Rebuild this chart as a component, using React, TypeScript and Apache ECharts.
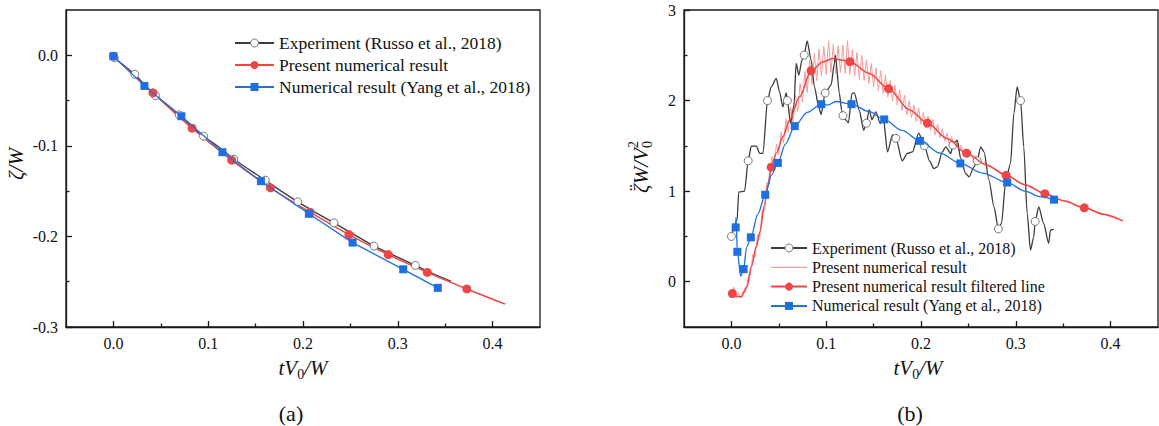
import React, { useEffect, useRef } from 'react';
import * as echarts from 'echarts';

const SERIF = '"Liberation Serif", "Times New Roman", Times, serif';

// ---------- data (x, y, marker flag) ----------
const A_EXP: number[][] = [
  [0.001, -0.0026, 1], [0.0226, -0.021, 1], [0.033, -0.0325, 0], [0.0444, -0.0445, 1], [0.057, -0.055, 0],
  [0.0694, -0.0658, 1], [0.082, -0.078, 0], [0.0951, -0.0893, 1], [0.111, -0.101, 0], [0.1271, -0.1147, 1],
  [0.1407, -0.1245, 0], [0.1602, -0.1379, 1], [0.177, -0.15, 0], [0.1945, -0.1618, 1], [0.213, -0.1735, 0],
  [0.2327, -0.185, 1], [0.254, -0.198, 0], [0.2749, -0.2107, 1], [0.297, -0.2215, 0], [0.3185, -0.232, 1],
  [0.338, -0.2415, 0], [0.3563, -0.2495, 0],
];
const A_PRESENT: number[][] = [
  [0.0, -0.001, 1], [0.0417, -0.0415, 1], [0.083, -0.0805, 1], [0.1248, -0.1158, 1], [0.1657, -0.1463, 1],
  [0.2074, -0.1732, 1], [0.2485, -0.1980, 1], [0.2899, -0.2200, 1], [0.3311, -0.2397, 1], [0.3728, -0.2580, 1],
  [0.4130, -0.2746, 0],
];
const A_YANG: number[][] = [
  [0.0, -0.001, 1], [0.0327, -0.0338, 1], [0.0717, -0.0673, 1], [0.115, -0.107, 1], [0.1556, -0.139, 1],
  [0.2062, -0.175, 1], [0.2523, -0.2068, 1], [0.3057, -0.2363, 1], [0.3422, -0.2568, 1],
];

const B_EXP: number[][] = [
  [0.0, 0.5, 1], [0.006, 0.68, 0], [0.0077, 0.99, 0], [0.0139, 1.0, 0], [0.0177, 1.335, 1], [0.021, 1.497, 0],
  [0.0263, 1.497, 0], [0.0298, 1.416, 0], [0.0333, 1.416, 0], [0.0381, 2.0, 1], [0.042, 2.151, 0],
  [0.0473, 2.244, 0], [0.0508, 2.096, 0], [0.0543, 1.93, 0], [0.0578, 2.085, 0], [0.059, 2.0, 1],
  [0.0625, 1.75, 0], [0.066, 1.95, 0], [0.0683, 2.41, 0], [0.0711, 2.28, 0], [0.0745, 2.45, 0],
  [0.0768, 2.502, 1], [0.0799, 2.66, 0], [0.0841, 2.446, 0], [0.0876, 2.151, 0], [0.0921, 1.93, 0],
  [0.0946, 1.846, 0], [0.0989, 2.083, 1], [0.1051, 2.17, 0], [0.1086, 2.41, 0], [0.1097, 2.5, 0],
  [0.1139, 2.078, 0], [0.1163, 1.894, 0], [0.1177, 1.833, 1], [0.1209, 1.784, 0], [0.1234, 1.754, 0],
  [0.1272, 2.078, 0], [0.1296, 2.085, 0], [0.1349, 1.894, 0], [0.1395, 1.673, 0], [0.1424, 1.75, 1],
  [0.1454, 1.9, 0], [0.1482, 1.79, 0], [0.1524, 1.876, 0], [0.157, 1.747, 0], [0.1601, 1.82, 0],
  [0.1647, 1.434, 0], [0.17, 1.62, 0], [0.1735, 1.583, 1], [0.1802, 1.336, 0], [0.1857, 1.416, 0],
  [0.191, 1.434, 0], [0.1976, 1.64, 0], [0.2015, 1.563, 0], [0.2036, 1.5, 1], [0.2092, 1.33, 0],
  [0.2135, 1.25, 0], [0.2173, 1.268, 0], [0.2225, 1.434, 0], [0.2261, 1.489, 0], [0.2314, 1.416, 0],
  [0.2337, 1.508, 1], [0.2383, 1.563, 0], [0.2418, 1.361, 0], [0.2471, 1.195, 0], [0.2507, 1.158, 0],
  [0.2559, 1.268, 0], [0.2593, 1.335, 1], [0.2629, 1.489, 0], [0.2665, 1.434, 0], [0.2717, 1.121, 0],
  [0.277, 0.827, 0], [0.2816, 0.583, 1], [0.2849, 0.643, 0], [0.2891, 1.085, 0], [0.2944, 1.306, 0],
  [0.298, 1.858, 0], [0.3014, 2.151, 0], [0.305, 2.0, 1], [0.3084, 1.489, 0], [0.312, 0.754, 0],
  [0.3155, 0.349, 0], [0.319, 0.496, 0], [0.3204, 0.665, 1], [0.3242, 0.827, 0], [0.3294, 0.643, 0],
  [0.3347, 0.423, 0], [0.3365, 0.57, 0], [0.34, 0.577, 0],
];
const B_RAW: number[][] = [
  [0, -0.135], [0.0025, -0.06], [0.005, -0.17], [0.0075, -0.12], [0.01, -0.175], [0.0125, -0.1], [0.015, -0.12],
  [0.0175, 0.04], [0.02, 0.07], [0.0225, 0.3], [0.025, 0.27], [0.0275, 0.52], [0.03, 0.49], [0.0325, 0.79],
  [0.035, 0.78], [0.0375, 1.1], [0.04, 1.08], [0.0425, 1.38], [0.045, 1.27], [0.0475, 1.52], [0.05, 1.4],
  [0.0525, 1.65], [0.055, 1.53], [0.0575, 1.8], [0.06, 1.65], [0.0625, 1.93], [0.065, 1.76], [0.0675, 2.06],
  [0.07, 1.88], [0.0725, 2.19], [0.075, 1.98], [0.0775, 2.32], [0.08, 2.09], [0.0825, 2.45], [0.085, 2.18],
  [0.0875, 2.52], [0.09, 2.22], [0.0925, 2.57], [0.095, 2.27], [0.0975, 2.6], [0.1, 2.29], [0.1025, 2.66],
  [0.105, 2.31], [0.1075, 2.62], [0.11, 2.3], [0.1125, 2.6], [0.115, 2.31], [0.1175, 2.61], [0.12, 2.3],
  [0.1225, 2.66], [0.125, 2.29], [0.1275, 2.56], [0.13, 2.27], [0.1325, 2.53], [0.135, 2.23], [0.1375, 2.5],
  [0.14, 2.22], [0.1425, 2.45], [0.145, 2.19], [0.1475, 2.41], [0.15, 2.15], [0.1525, 2.36], [0.155, 2.11],
  [0.1575, 2.33], [0.16, 2.08], [0.1625, 2.28], [0.165, 2.04], [0.1675, 2.22], [0.17, 1.99], [0.1725, 2.17],
  [0.175, 1.95], [0.1775, 2.12], [0.18, 1.89], [0.1825, 2.06], [0.185, 1.84], [0.1875, 2.0], [0.19, 1.81],
  [0.1925, 1.95], [0.195, 1.77], [0.1975, 1.92], [0.2, 1.74], [0.2025, 1.87], [0.205, 1.7], [0.2075, 1.83],
  [0.21, 1.67], [0.2125, 1.79], [0.215, 1.62], [0.2175, 1.74], [0.22, 1.59], [0.2225, 1.69], [0.225, 1.55],
  [0.2275, 1.64], [0.23, 1.51], [0.2325, 1.6], [0.235, 1.47], [0.2375, 1.56], [0.24, 1.44], [0.2425, 1.51],
  [0.245, 1.4], [0.2475, 1.47], [0.25, 1.38], [0.2525, 1.42], [0.255, 1.35], [0.2575, 1.39], [0.26, 1.33],
  [0.2625, 1.35], [0.265, 1.3], [0.2675, 1.32], [0.27, 1.28], [0.28, 1.235], [0.29, 1.175], [0.3, 1.12],
  [0.31, 1.07], [0.32, 1.02], [0.33, 0.974], [0.34, 0.935], [0.35, 0.895], [0.36, 0.86], [0.37, 0.823],
  [0.38, 0.79], [0.39, 0.755], [0.4, 0.718], [0.4128, 0.672],
];
const B_FILTERED: number[][] = [
  [0.001, -0.13, 1], [0.005, -0.16, 0], [0.0105, -0.165, 0], [0.0164, -0.056, 0], [0.021, 0.165, 0],
  [0.0263, 0.385, 0], [0.03, 0.55, 0], [0.035, 0.85, 0], [0.0385, 1.07, 0], [0.042, 1.265, 1],
  [0.0473, 1.416, 0], [0.0543, 1.6, 0], [0.0613, 1.784, 0], [0.0718, 2.04, 0], [0.084, 2.328, 1],
  [0.0963, 2.427, 0], [0.1068, 2.464, 0], [0.1174, 2.446, 0], [0.125, 2.43, 1], [0.1454, 2.3, 0],
  [0.1658, 2.131, 1], [0.1875, 1.9, 0], [0.2068, 1.752, 1], [0.2275, 1.58, 0], [0.2481, 1.419, 1],
  [0.269, 1.29, 0], [0.2898, 1.175, 1], [0.31, 1.07, 0], [0.3307, 0.972, 1], [0.3515, 0.89, 0],
  [0.3722, 0.816, 1], [0.3925, 0.745, 0], [0.4128, 0.672, 0],
];
const B_YANG: number[][] = [
  [0.0045, 0.6, 1], [0.0048, 0.71, 0], [0.0063, 0.33, 1], [0.0098, 0.06, 0], [0.0129, 0.14, 1],
  [0.016, 0.38, 0], [0.0205, 0.49, 1], [0.028, 0.75, 0], [0.0357, 0.96, 1], [0.0425, 1.18, 0],
  [0.049, 1.312, 1], [0.057, 1.52, 0], [0.0668, 1.718, 1], [0.08, 1.87, 0], [0.0948, 1.96, 1],
  [0.1016, 1.95, 0], [0.1104, 1.99, 0], [0.1267, 1.96, 1], [0.145, 1.88, 0], [0.1612, 1.792, 1],
  [0.18, 1.67, 0], [0.1989, 1.555, 1], [0.22, 1.42, 0], [0.2415, 1.306, 1], [0.265, 1.2, 0],
  [0.2909, 1.095, 1], [0.31, 1.0, 0], [0.325, 0.94, 0], [0.3403, 0.906, 1],
];

const X_TICKS = [0, 0.1, 0.2, 0.3, 0.4];
const X_MINOR = [0.05, 0.15, 0.25, 0.35];
const A_Y_TICKS = [0, -0.1, -0.2, -0.3];
const A_Y_MINOR = [-0.05, -0.15, -0.25];
const B_Y_TICKS = [0, 1, 2, 3];
const B_Y_MINOR = [0.5, 1.5, 2.5];

const N_EXP = 'Experiment (Russo et al., 2018)';
const N_PRES = 'Present numerical result';
const N_FILT = 'Present numerical result filtered line';
const N_YANG = 'Numerical result (Yang et al., 2018)';
const B = 'b: ';

// ---------- helpers ----------
const INK = '#1a1a1a';
const C_EXP = '#3c3c3c';
const C_EXP_MK = '#6a6a6a';
const C_RED = '#f04545';
const C_BLUE = '#1e6fe0';
const C_PINK = '#f59c9c';

const toData = (pts: number[][]) =>
  pts.map((p) => (p.length < 3 || p[2] ? [p[0], p[1]] : { value: [p[0], p[1]], symbol: 'none' }));

let ctx: CanvasRenderingContext2D | null = null;
function measure(t: string, fs: number, it: boolean) {
  if (!ctx) ctx = document.createElement('canvas').getContext('2d');
  if (!ctx) return t.length * fs * 0.5;
  ctx.font = `${it ? 'italic ' : ''}${fs}px ${SERIF}`;
  return ctx.measureText(t).width;
}

type Piece = { t: string; it?: boolean; fs: number; dy: number; stack?: boolean; dx?: number };
function mathTitle(pieces: Piece[], cx: number, cy: number, rot: number) {
  let x = 0;
  let prevX = 0;
  const children: any[] = [];
  for (const p of pieces) {
    const w = measure(p.t, p.fs, !!p.it);
    let px: number;
    if (p.stack) {
      px = prevX + (p.dx || 0);
      x = Math.max(x, px + w);
    } else {
      px = x;
      prevX = x;
      x += w;
    }
    children.push({
      type: 'text',
      x: px,
      y: p.dy,
      style: {
        text: p.t, fontSize: p.fs, fontFamily: SERIF, fontStyle: p.it ? 'italic' : 'normal', fill: '#111',
        textAlign: 'left', align: 'left', textVerticalAlign: 'middle', verticalAlign: 'middle',
      },
    });
  }
  children.forEach((c) => (c.x -= x / 2));
  return { type: 'group', x: cx, y: cy, rotation: rot, children };
}

function mainAxis(gridIndex: number, min: number, max: number, ticks: number[], fmt: (v: number) => string, pos: string) {
  return {
    type: 'value', gridIndex, min, max, position: pos,
    axisLine: { show: true, onZero: false, lineStyle: { color: INK, width: 1.3 } },
    axisTick: { show: true, inside: true, length: 6, customValues: ticks, lineStyle: { color: INK, width: 1.3 } },
    axisLabel: { show: true, customValues: ticks, formatter: fmt, fontSize: 16, fontFamily: SERIF, color: '#111', margin: 8 },
    splitLine: { show: false },
  };
}
function minorAxis(gridIndex: number, min: number, max: number, ticks: number[], pos: string) {
  return {
    type: 'value', gridIndex, min, max, position: pos,
    axisLine: { show: false, onZero: false },
    axisTick: { show: true, inside: true, length: 3.5, customValues: ticks, lineStyle: { color: INK, width: 1.3 } },
    axisLabel: { show: false },
    splitLine: { show: false },
  };
}

function buildOption() {
  const fx = (v: number) => v.toFixed(1);
  const fi = (v: number) => String(v);
  const lineBase = { type: 'line', clip: true, z: 2 };
  const expMarker = { color: '#fff', borderColor: C_EXP_MK, borderWidth: 0.9 };
  const expLegend = (name: string) => ({ name, itemStyle: { color: '#fff', borderColor: C_EXP_MK, borderWidth: 0.9 } });
  return {
    animation: false,
    backgroundColor: '#fff',
    grid: [
      { left: 66, top: 10, width: 474, height: 317, show: true, borderColor: INK, borderWidth: 1.3, backgroundColor: 'transparent' },
      { left: 684, top: 10, width: 474, height: 317, show: true, borderColor: INK, borderWidth: 1.3, backgroundColor: 'transparent' },
    ],
    xAxis: [
      mainAxis(0, -0.05, 0.45, X_TICKS, fx, 'bottom'),
      mainAxis(1, -0.05, 0.45, X_TICKS, fx, 'bottom'),
      minorAxis(0, -0.05, 0.45, X_MINOR, 'bottom'),
      minorAxis(1, -0.05, 0.45, X_MINOR, 'bottom'),
    ],
    yAxis: [
      mainAxis(0, -0.3, 0.05, A_Y_TICKS, fx, 'left'),
      mainAxis(1, -0.5, 3, B_Y_TICKS, fi, 'left'),
      minorAxis(0, -0.3, 0.05, A_Y_MINOR, 'left'),
      minorAxis(1, -0.5, 3, B_Y_MINOR, 'left'),
    ],
    legend: [
      {
        orient: 'vertical', left: 234, top: 33, padding: 0, itemWidth: 39, itemHeight: 10, itemGap: 2,
        selectedMode: false, data: [expLegend(N_EXP), N_PRES, N_YANG],
        textStyle: { fontSize: 17.5, fontFamily: SERIF, color: '#111', lineHeight: 20 },
      },
      {
        orient: 'vertical', left: 770, top: 239, padding: 0, itemWidth: 36, itemHeight: 10, itemGap: 1.3,
        selectedMode: false,
        data: [
          expLegend(B + N_EXP),
          { name: B + N_PRES, icon: 'path://M0 0H36V1.2H0Z', itemStyle: { color: C_PINK, borderWidth: 0 } },
          B + N_FILT,
          B + N_YANG,
        ],
        formatter: (n: string) => n.replace(B, ''),
        textStyle: { fontSize: 16, fontFamily: SERIF, color: '#111', lineHeight: 18 },
      },
    ],
    series: [
      {
        ...lineBase, name: N_EXP, xAxisIndex: 0, yAxisIndex: 0, data: toData(A_EXP),
        symbol: 'circle', symbolSize: 8, showAllSymbol: true,
        lineStyle: { color: C_EXP, width: 1.3 }, itemStyle: expMarker,
      },
      {
        ...lineBase, name: N_PRES, xAxisIndex: 0, yAxisIndex: 0, data: toData(A_PRESENT), smooth: 0.3,
        symbol: 'circle', symbolSize: 9, showAllSymbol: true,
        lineStyle: { color: C_RED, width: 1.5 }, itemStyle: { color: C_RED },
      },
      {
        ...lineBase, name: N_YANG, xAxisIndex: 0, yAxisIndex: 0, data: toData(A_YANG),
        symbol: 'rect', symbolSize: 8, showAllSymbol: true, z: 3,
        lineStyle: { color: C_BLUE, width: 1.3 }, itemStyle: { color: C_BLUE },
      },
      {
        ...lineBase, name: B + N_PRES, xAxisIndex: 1, yAxisIndex: 1, data: B_RAW, z: 1,
        symbol: 'none', showSymbol: false,
        lineStyle: { color: C_PINK, width: 1 }, itemStyle: { color: C_PINK },
      },
      {
        ...lineBase, name: B + N_EXP, xAxisIndex: 1, yAxisIndex: 1, data: toData(B_EXP),
        smooth: 0.25, smoothMonotone: 'x',
        symbol: 'circle', symbolSize: 8, showAllSymbol: true,
        lineStyle: { color: C_EXP, width: 1.3 }, itemStyle: expMarker,
      },
      {
        ...lineBase, name: B + N_FILT, xAxisIndex: 1, yAxisIndex: 1, data: toData(B_FILTERED),
        smooth: 0.3, smoothMonotone: 'x', z: 3,
        symbol: 'circle', symbolSize: 9, showAllSymbol: true,
        lineStyle: { color: C_RED, width: 1.5 }, itemStyle: { color: C_RED },
      },
      {
        ...lineBase, name: B + N_YANG, xAxisIndex: 1, yAxisIndex: 1, data: toData(B_YANG),
        smooth: 0.3, smoothMonotone: 'x', z: 4,
        symbol: 'rect', symbolSize: 8, showAllSymbol: true,
        lineStyle: { color: C_BLUE, width: 1.3 }, itemStyle: { color: C_BLUE },
      },
    ],
    graphic: [
      mathTitle([{ t: 'tV', it: true, fs: 21, dy: 0 }, { t: '0', fs: 14, dy: 6 }, { t: '/W', it: true, fs: 21, dy: 0 }], 303, 368, 0),
      mathTitle([{ t: 'tV', it: true, fs: 21, dy: 0 }, { t: '0', fs: 14, dy: 6 }, { t: '/W', it: true, fs: 21, dy: 0 }], 918, 368, 0),
      mathTitle([{ t: 'ζ/W', it: true, fs: 21, dy: 0 }], 16, 164, Math.PI / 2),
      mathTitle(
        [
          { t: 'ζ', it: true, fs: 21, dy: 0 },
          { t: '¨', fs: 20, dy: -5, stack: true, dx: 2 },
          { t: 'W/V', it: true, fs: 21, dy: 0 },
          { t: '2', fs: 14, dy: -8 },
          { t: '0', fs: 14, dy: 6, stack: true },
        ],
        641, 167, Math.PI / 2,
      ),
      {
        type: 'text', x: 291, y: 413,
        style: { text: '(a)', fontSize: 22, fontFamily: SERIF, fill: '#111', textAlign: 'center', align: 'center', textVerticalAlign: 'middle', verticalAlign: 'middle' },
      },
      {
        type: 'text', x: 910, y: 413,
        style: { text: '(b)', fontSize: 22, fontFamily: SERIF, fill: '#111', textAlign: 'center', align: 'center', textVerticalAlign: 'middle', verticalAlign: 'middle' },
      },
    ],
  };
}

export default function App() {
  const ref = useRef<HTMLDivElement>(null);
  useEffect(() => {
    if (!ref.current) return;
    const chart = echarts.init(ref.current, undefined, { renderer: 'svg' });
    chart.setOption(buildOption() as any);
    return () => chart.dispose();
  }, []);
  return (
    <div
      ref={ref}
      style={{ position: 'absolute', left: 0, top: 0, width: 1159, height: 426, background: '#fff' }}
    />
  );
}
